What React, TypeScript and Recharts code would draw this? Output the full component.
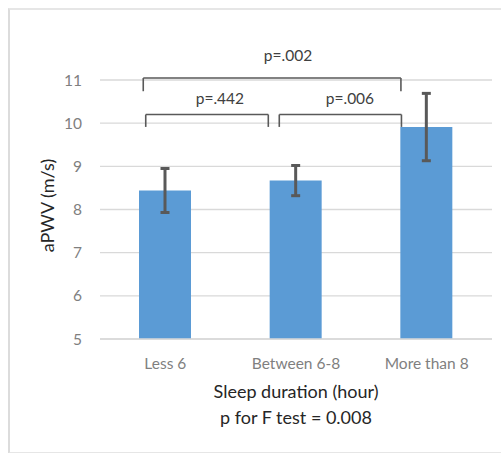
import React from 'react';
import { BarChart, Bar, XAxis, YAxis, CartesianGrid, ErrorBar, ReferenceLine, ReferenceDot, Label } from 'recharts';

const categories = ['Less 6', 'Between 6-8', 'More than 8'];
const meanPWV = [8.44, 8.67, 9.91];
const errPWV = [0.51, 0.35, 0.78];
const yTicks = [5, 6, 7, 8, 9, 10, 11];

// comparison brackets: [x start, x end, y top, y leg end] in band units (0..3) and data units
const bracketSpans = [
  [0.331, 2.303, 11.046, 10.74],
  [0.35, 1.288, 10.2, 9.913],
  [1.372, 2.307, 10.2, 9.913],
];
const bracketLabels = ['p=.002', 'p=.442', 'p=.006'];
const bracketLabelPos = [
  [1.439, 11.57],
  [0.918, 10.577],
  [1.913, 10.577],
];

const data = categories.map((c, i) => ({ name: c, pos: i + 0.5, value: meanPWV[i], err: errPWV[i] }));
const xTicks = data.map((d) => d.pos);

const FONT = 'Lato, "Open Sans", sans-serif';
const LINE = '#595959';

export default function App() {
  return (
    <div style={{ position: 'absolute', left: 0, top: 0, width: 501, height: 453, background: '#fff' }}>
      <div style={{ position: 'absolute', left: 8, top: 8, width: 500, height: 442, borderLeft: '2px solid #dcdcdc', borderTop: '2px solid #e6e6e6', borderBottom: '2px solid #e6e6e6' }} />
      <div style={{ position: 'absolute', left: 0, top: 0 }}>
        <BarChart width={501} height={453} data={data} margin={{ top: 80, right: 9, bottom: 0, left: 0 }}>
          <CartesianGrid vertical={false} stroke="#d9d9d9" strokeWidth={1.3} />
          <XAxis dataKey="pos" type="number" domain={[0, 3]} allowDataOverflow ticks={xTicks}
            tickFormatter={(v: number) => categories[Math.floor(v)]}
            axisLine={{ stroke: '#d9d9d9', strokeWidth: 1.3 }} tickLine={false} tickSize={0} tickMargin={19}
            tick={{ fill: '#7f7f7f', fontSize: 15.5, fontFamily: FONT }} interval={0} height={114}>
            <Label content={(props: any) => {
              const vb = props.viewBox || {};
              const cx = vb.x + vb.width / 2;
              return (
                <g fontFamily={FONT}>
                  <text x={cx} y={398} fontSize={18} fill="#262626" textAnchor="middle">Sleep duration (hour)</text>
                  <text x={cx} y={424} fontSize={18} fill="#262626" textAnchor="middle">p for F test = 0.008</text>
                </g>
              );
            }} />
          </XAxis>
          <YAxis domain={[5, 11]} ticks={yTicks} axisLine={false} tickLine={false} tickSize={0} tickMargin={18} width={100}
            tick={{ fill: '#7f7f7f', fontSize: 15.5, fontFamily: FONT }}>
            <Label content={(props: any) => {
              const vb = props.viewBox || {};
              const cy = vb.y + vb.height / 2 - 4;
              const cx = 47;
              return (
                <text x={cx} y={cy} fontSize={18} fontFamily={FONT} fill="#262626" textAnchor="middle" dominantBaseline="central" transform={`rotate(-90 ${cx} ${cy})`}>aPWV (m/s)</text>
              );
            }} />
          </YAxis>
          <Bar dataKey="value" fill="#5b9bd5" barSize={52} isAnimationActive={false}>
            <ErrorBar dataKey="err" width={4.5} stroke={LINE} strokeWidth={3} isAnimationActive={false} />
          </Bar>
          {bracketSpans.map((b, i) => (
            <ReferenceLine key={'h' + i} ifOverflow="visible" stroke={LINE} strokeWidth={1.6}
              segment={[{ x: b[0], y: b[2] }, { x: b[1], y: b[2] }]} />
          ))}
          {bracketSpans.map((b, i) => (
            <ReferenceLine key={'l' + i} ifOverflow="visible" stroke={LINE} strokeWidth={1.6}
              segment={[{ x: b[0], y: b[2] }, { x: b[0], y: b[3] }]} />
          ))}
          {bracketSpans.map((b, i) => (
            <ReferenceLine key={'r' + i} ifOverflow="visible" stroke={LINE} strokeWidth={1.6}
              segment={[{ x: b[1], y: b[2] }, { x: b[1], y: b[3] }]} />
          ))}
          {bracketLabels.map((t, i) => (
            <ReferenceDot key={'t' + i} x={bracketLabelPos[i][0]} y={bracketLabelPos[i][1]} r={0} fill="none" stroke="none" ifOverflow="visible"
              label={{ value: t, position: 'center', fill: '#404040', fontSize: 15.5, fontFamily: FONT }} />
          ))}
        </BarChart>
      </div>
    </div>
  );
}
